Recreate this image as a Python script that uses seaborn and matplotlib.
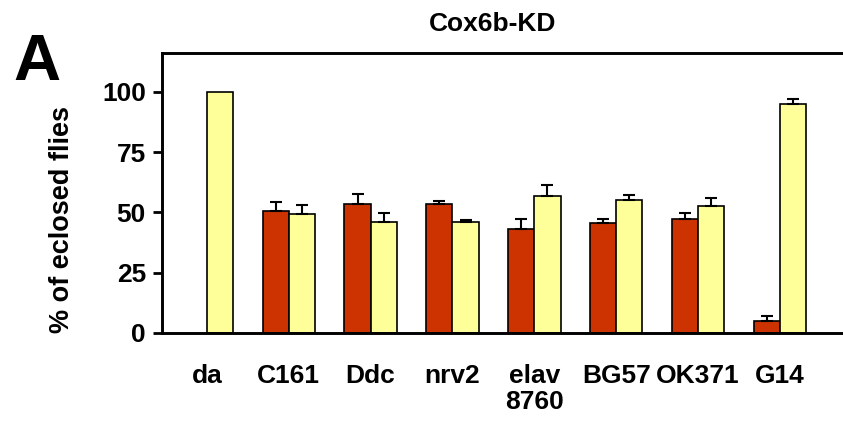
import numpy as np
import pandas as pd
import matplotlib
matplotlib.use("Agg")
import matplotlib.pyplot as plt
import seaborn as sns

# ---- data ----
categories = ["da", "C161", "Ddc", "nrv2", "elav\n8760", "BG57", "OK371", "G14"]
kd_values = [np.nan, 50.6, 53.5, 53.5, 43.2, 45.6, 47.2, 5.1]
kd_errors = [np.nan, 3.6, 4.3, 1.4, 4.0, 1.7, 2.6, 2.0]
ctrl_values = [100.0, 49.4, 45.8, 46.2, 56.8, 55.2, 52.8, 95.1]
ctrl_errors = [0.0, 3.5, 4.0, 0.7, 4.6, 2.2, 3.0, 1.9]
groups = ["KD", "Control"]
yticks = [0, 25, 50, 75, 100]

colors = {"KD": "#CC3300", "Control": "#FFFF99"}

df = pd.DataFrame({
    "line": categories * 2,
    "group": ["KD"] * len(categories) + ["Control"] * len(categories),
    "value": kd_values + ctrl_values,
    "err": kd_errors + ctrl_errors,
})
df_plot = df.dropna(subset=["value"])

sns.set_style("white")
plt.rcParams["font.family"] = ["Liberation Sans", "DejaVu Sans"]
plt.rcParams["font.weight"] = "bold"
plt.rcParams["text.color"] = "black"
plt.rcParams["axes.labelcolor"] = "black"
plt.rcParams["xtick.color"] = "black"
plt.rcParams["ytick.color"] = "black"

fig = plt.figure(figsize=(8.43, 4.22), dpi=100)
ax = fig.add_axes([0.192, 0.211, 0.808, 0.663])

sns.barplot(data=df_plot, x="line", y="value", hue="group", order=categories,
            hue_order=groups, palette=colors, errorbar=None, width=0.64,
            edgecolor="black", linewidth=1.2, saturation=1, ax=ax, legend=False)

# one-sided (upward) error bars, located from the drawn bars
for container, grp in zip(ax.containers, groups):
    sub = df[df["group"] == grp].set_index("line")
    xs, ys, es = [], [], []
    for bar in container:
        cx = bar.get_x() + bar.get_width() / 2
        idx = int(round(cx))
        e = sub.loc[categories[idx], "err"]
        if e and not np.isnan(e):
            xs.append(cx)
            ys.append(bar.get_height())
            es.append(e)
    ax.errorbar(xs, ys, yerr=[np.zeros(len(es)), es], fmt="none",
                ecolor="black", elinewidth=1.5, capsize=4.5, capthick=1.5,
                zorder=1)

ax.set_ylim(0, 116)
ax.set_xlim(-0.55, 7.77)
ax.set_yticks(yticks)
ax.set_yticklabels([str(t) for t in yticks])
ax.tick_params(axis="y", length=6.5, width=2.0, direction="out", pad=5,
               labelsize=19, left=True, colors="black")
ax.tick_params(axis="x", length=0, pad=22, labelsize=19, colors="black")
for lab in ax.get_xticklabels() + ax.get_yticklabels():
    lab.set_fontweight("bold")
    lab.set_linespacing(1.15)

ax.set_xlabel("")
ax.set_ylabel("% of eclosed flies", fontsize=19.5, fontweight="bold", color="black")
ax.yaxis.set_label_coords(-0.127, 0.404)

for s in ["left", "top", "bottom"]:
    ax.spines[s].set_visible(True)
    ax.spines[s].set_linewidth(2.1)
    ax.spines[s].set_color("black")
ax.spines["right"].set_visible(False)

ax.set_title("Cox6b-KD", fontsize=19, fontweight="bold", x=0.486, pad=16, color="black")
fig.text(0.044, 0.85, "A", fontsize=47, fontweight="bold", ha="center", va="center",
         color="black")

fig.savefig("out.png", dpi=100)
